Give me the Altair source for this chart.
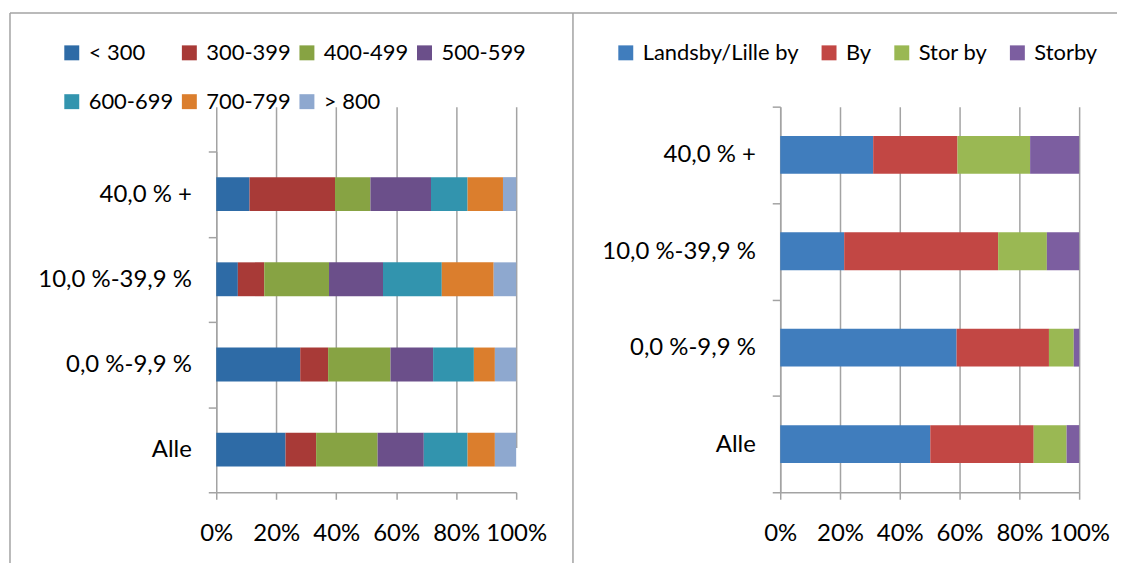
import altair as alt
import pandas as pd

# ---------------- data ----------------
categories = ["40,0 % +", "10,0 %-39,9 %", "0,0 %-9,9 %", "Alle"]

price_groups = ["< 300", "300-399", "400-499", "500-599", "600-699", "700-799", "> 800"]
price_colors = ["#2E6BA6", "#A83A37", "#87A343", "#6B4F8A", "#3294AE", "#DB7E2D", "#8EA8CF"]
price_lt300 = [11.1, 7.2, 28.0, 23.1]
price_300 = [28.5, 8.8, 9.3, 10.2]
price_400 = [11.8, 21.6, 20.8, 20.5]
price_500 = [20.2, 18.0, 14.2, 15.4]
price_600 = [12.2, 19.6, 13.6, 14.6]
price_700 = [11.8, 17.3, 7.0, 9.1]
price_gt800 = [4.4, 7.5, 7.1, 7.1]
price_values = [price_lt300, price_300, price_400, price_500, price_600, price_700, price_gt800]

size_groups = ["Landsby/Lille by", "By", "Stor by", "Storby"]
size_colors = ["#407DBD", "#C24744", "#9AB853", "#7C5EA0"]
size_landsby = [31.1, 21.4, 59.0, 50.2]
size_by = [28.2, 51.5, 30.9, 34.6]
size_storby_small = [24.3, 16.3, 8.3, 11.0]
size_storby = [16.4, 10.8, 1.8, 4.2]
size_values = [size_landsby, size_by, size_storby_small, size_storby]

x_ticks = [0, 0.2, 0.4, 0.6, 0.8, 1.0]

FONT = "Lato"
LINE = "#a3a3a3"
AXIS_FS = 24
LEG_FS = 22


def long_table(groups, values):
    rows = []
    for gi, (g, vals) in enumerate(zip(groups, values)):
        for c, v in zip(categories, vals):
            rows.append({"cat": c, "group": g, "idx": gi, "value": v})
    return pd.DataFrame(rows)


def panel(groups, colors, values, width, height, yrange, bar_size,
          legend_x, legend_y, columns, grid_align, col_pad, frame):
    df = long_table(groups, values)
    one = pd.DataFrame({"k": [0]})
    fx1, fx2, fy1, fy2 = frame
    top_line = alt.Chart(one).mark_rule(color=LINE, strokeWidth=1.5).encode(
        x=alt.value(fx1), x2=alt.value(fx2), y=alt.value(fy1))
    left_line = alt.Chart(one).mark_rule(color=LINE, strokeWidth=1.5).encode(
        x=alt.value(fx1), y=alt.value(fy1), y2=alt.value(fy2))
    bars = alt.Chart(df).mark_bar(size=bar_size).encode(
        y=alt.Y("cat:N",
                scale=alt.Scale(domain=categories, range=yrange,
                                paddingInner=0, paddingOuter=0),
                axis=alt.Axis(title=None, tickBand="extent", tickSize=8,
                              labelPadding=17, labelFont=FONT, labelFontSize=AXIS_FS,
                              labelColor="#000000", domainColor=LINE,
                              tickColor=LINE, domainWidth=1.5, tickWidth=1.5,
                              grid=False)),
        x=alt.X("value:Q", stack="normalize",
                scale=alt.Scale(domain=[0, 1]),
                axis=alt.Axis(title=None, values=x_ticks, format=".0%",
                              tickSize=7, labelPadding=22, labelFont=FONT,
                              labelFontSize=AXIS_FS, labelColor="#000000",
                              labelOverlap=False, labelFlush=False,
                              domainColor=LINE, tickColor=LINE,
                              domainWidth=1.5, tickWidth=1.5,
                              grid=True, gridColor=LINE, gridWidth=1.5)),
        color=alt.Color("group:N",
                        scale=alt.Scale(domain=groups, range=colors),
                        legend=alt.Legend(title=None, orient="none",
                                          legendX=legend_x, legendY=legend_y,
                                          direction="horizontal", columns=columns,
                                          gridAlign=grid_align,
                                          columnPadding=col_pad, rowPadding=27,
                                          symbolType="square", symbolSize=225,
                                          symbolStrokeWidth=0, symbolOpacity=1,
                                          labelFont=FONT, labelFontSize=LEG_FS,
                                          labelColor="#000000", labelOffset=6,
                                          labelLimit=400, padding=0)),
        order=alt.Order("idx:Q"),
    )
    return alt.layer(top_line, left_line, bars).properties(width=width, height=height)


left = panel(price_groups, price_colors, price_values, 301, 387, [45, 387], 34,
             -156, -65, 4, "all", 5, (-207, 358, -94, 458))
right = panel(size_groups, size_colors, size_values, 300, 387, [0, 387], 38,
              -166, -65, 4, "none", 19, (-208, 338, -94, 458))

chart = alt.hconcat(left, right, spacing=265, bounds="flush").resolve_scale(
    color="independent"
).properties(
    padding={"left": 0, "top": 2, "right": 0, "bottom": 0}
).configure_view(stroke="transparent")

chart.save("out.html", embed_options={"renderer": "svg", "actions": False})
